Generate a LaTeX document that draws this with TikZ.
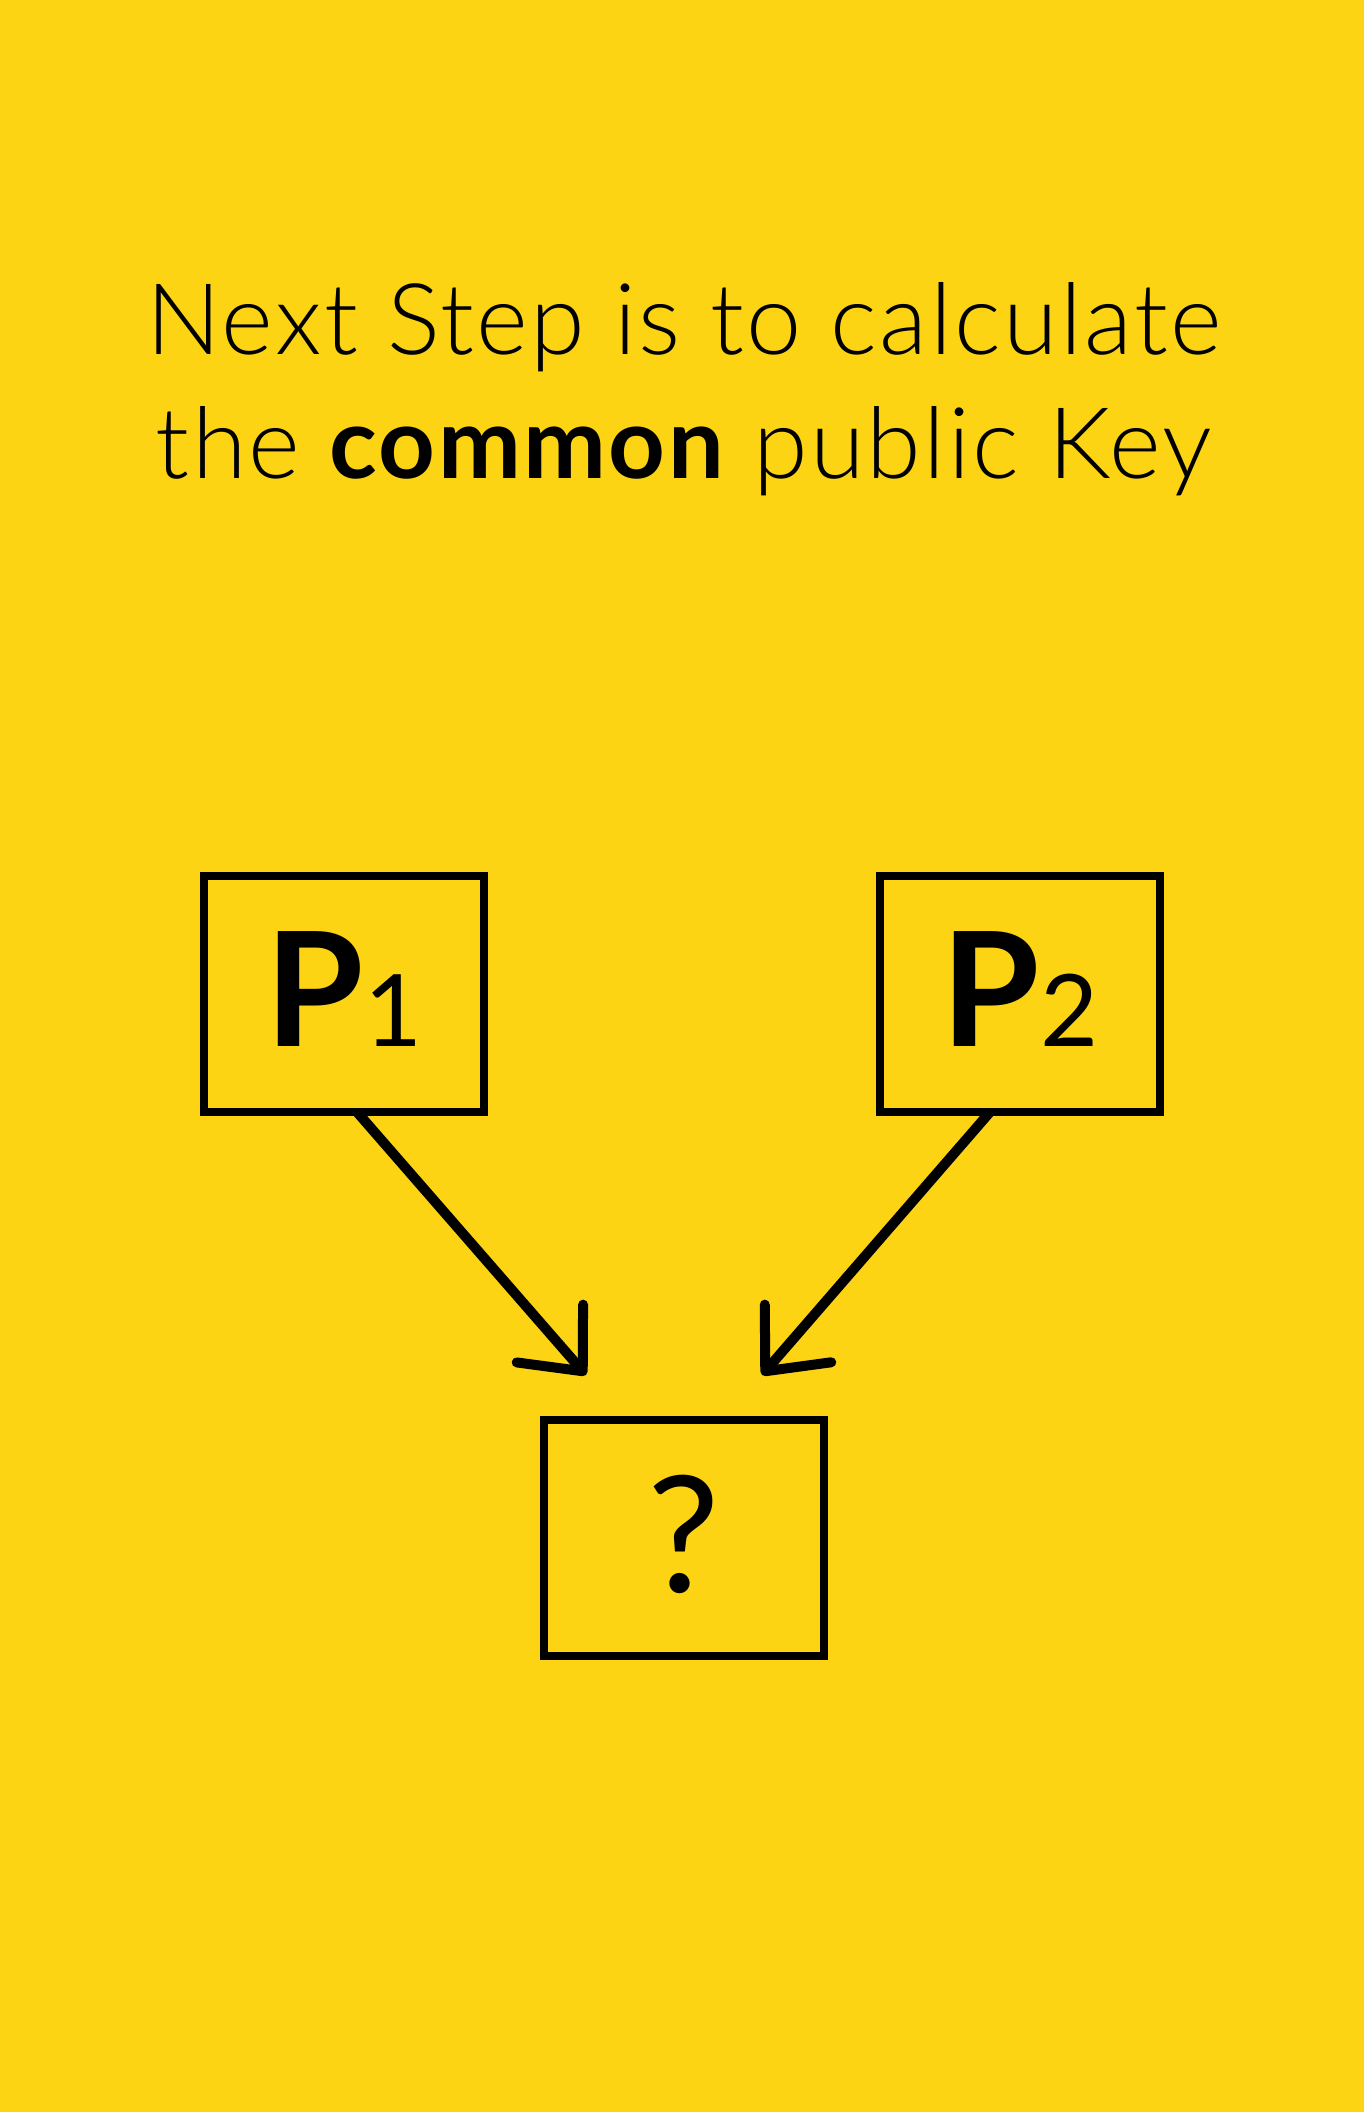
\documentclass[tikz,border=0pt]{standalone}
\usepackage{fontspec}
\setmainfont{Lato}
\newfontfamily\lightfont{Lato Light}[LetterSpace=2.4]
\usepackage{tikz}
\usetikzlibrary{arrows.meta,positioning}
\definecolor{bgyellow}{RGB}{252,212,20}
\tikzstyle{keybox} = [rectangle, draw=black, line width=8pt, minimum width=280pt, minimum height=236pt, inner sep=0pt, outer sep=0pt]
\tikzstyle{keyarrow} = [line width=10pt, -{Straight Barb[length=50pt,width=88pt,round]}]
\tikzstyle{headline} = [anchor=base, inner sep=0pt, font=\lightfont\fontsize{99}{124}\selectfont]

\begin{document}
\begin{tikzpicture}[x=1pt, y=-1pt]
% Background
\fill[bgyellow] (0,0) rectangle (1364,2112);
\useasboundingbox (0,0) rectangle (1364,2112);

% Headline
\node (line1) [headline] at (684,354) {Next Step is to calculate};
\node (line2) [headline] at (684,478) {the {\fontspec{Lato}[LetterSpace=2.4]\bfseries common} public Key};

% Public keys
\node (p1) [keybox] at (344,994) {};
\node (p2) [keybox, right of=p1, node distance=676pt] {};
\node (q) [keybox] at (684,1538) {};

% Labels
\node (p1label) [inner sep=0pt, anchor=base] at (p1.center |- 0,1046) {\fontsize{159}{159}\selectfont\bfseries P\fontsize{100}{100}\selectfont\mdseries 1};
\node (p2label) [inner sep=0pt, anchor=base] at (p2.center |- 0,1046) {\fontsize{159}{159}\selectfont\bfseries P\fontsize{100}{100}\selectfont\mdseries 2};
\node (qlabel) [inner sep=0pt, anchor=base] at (q.center |- 0,1592) {\fontsize{162}{162}\selectfont ?};

% Arrows
\coordinate (tip1) at (586,1375);
\coordinate (tip2) at (762,1375);
\draw[keyarrow] ([xshift=13pt]p1.south) -- (tip1);
\draw[keyarrow] ([xshift=-30pt]p2.south) -- (tip2);
\end{tikzpicture}
\end{document}
